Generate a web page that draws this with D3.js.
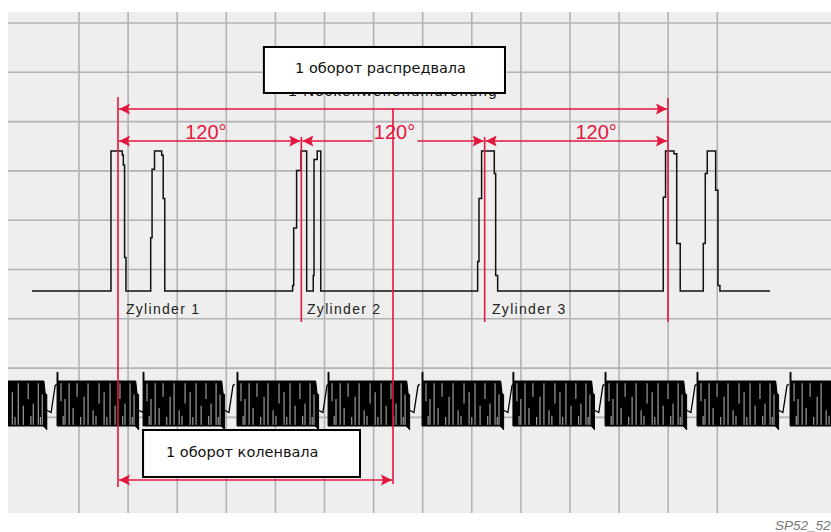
<!DOCTYPE html>
<html>
<head>
<meta charset="utf-8">
<script src="https://cdn.jsdelivr.net/npm/d3@7"></script>
<style>
  body { margin: 0; background: #fff; }
  svg { display: block; }
</style>
</head>
<body>
<div id="chart"></div>
<script>
// Hall sender (camshaft) trace, step points: [cam degrees, volts]
const camTrace = [
  [-56.3, 0],
  [-4.6, 5], [2.8, 4.86], [3.5, 4.5], [4.3, 1.2], [5.2, 0],
  [21.4, 1.9], [22.3, 4.35], [23.9, 5], [28.6, 4.85], [29.6, 3.3], [30.6, 0],
  [114.3, 0.2], [115.0, 2.25], [116.9, 4.3], [119.8, 5], [123.5, 0],
  [127.8, 0.55], [128.3, 4.7], [130.4, 5], [132.7, 0],
  [235.4, 1.05], [236.3, 3.3], [238.0, 5], [246.3, 4.2], [247.2, 0.55], [248.5, 0],
  [356.9, 3.35], [358.4, 5], [363.9, 4.9], [365.7, 1.7], [368.0, 0],
  [383.1, 1.7], [384.4, 4.2], [385.7, 5], [391.2, 3.6], [392.7, 0.2], [394.0, 0],
  [426.8, 0]
];

// engine speed sender (crankshaft): cam degree of each reference spike
const crankGroups = [-100, -39.9, 16.4, 77.9, 137.5, 199, 258.5, 318.8, 379, 439.9];
// one tooth group (offset in cam degrees, level)
const groupTop = [[0, 1.39], [0.6, 1.39], [0.6, 1.0], [51.5, 1.0], [52.4, 0.45], [53.4, 0.4]];
const groupBottom = [[0, -1.0], [51.0, -1.0], [52.3, -1.08], [53.4, -1.17]];
const groupRamp = [[53.4, -0.3], [56.2, -0.4], [58.9, 0.8], [60, 0.85]];
// light gaps between teeth: [offset, from level, to level]
const groupGaps = [
  [2.6, 0.9, 0.1], [5.2, 0.2, -0.95], [7.9, 0.9, -0.95], [10.5, -0.2, -0.95],
  [13.1, 0.9, 0.3], [17.7, 0.3, -0.95], [20.3, 0.9, -0.95], [23.6, -0.3, -0.95],
  [27.5, 0.9, 0.0], [30.8, 0.5, -0.95], [34.7, 0.9, -0.95], [38.0, -0.1, -0.95],
  [41.2, 0.9, 0.2], [44.5, 0.0, -0.95], [47.8, 0.9, -0.95], [50.4, 0.4, -0.95],
  [4.0, -0.55, -0.95], [15.5, -0.6, -0.95], [25.5, -0.55, -0.95], [32.6, -0.6, -0.95],
  [43.0, -0.55, -0.95], [49.2, -0.6, -0.95]
];

// dimension lines (cam degrees)
const camRev = [0, 360];
const crankRev = [0, 180];
const cylSpans = [[0, 120], [120, 240], [240, 360]];
const spanLabels = ["120°", "120°", "120°"];
const spanLabelAt = [57.5, 181, 313];
const cylinders = ["Zylinder 1", "Zylinder 2", "Zylinder 3"];
const cylLabelAt = [5.2, 123.7, 244.8];

const W = 831, H = 532;
const panel = { left: 8, top: 12, right: 831, bottom: 513 };
const red = "#e3173e";

const svg = d3.select("#chart").append("svg")
  .attr("width", W)
  .attr("height", H);

const x = d3.scaleLinear().domain([0, 360]).range([118, 668]);
const camY = d3.scaleLinear().domain([0, 5]).range([291, 151]);
const crankY = d3.scaleLinear().domain([-1, 1]).range([426, 381]);
const gridX = d3.scaleLinear().domain([0, 1]).range([79, 128.1]);
const gridY = d3.scaleLinear().domain([0, 1]).range([23, 72.3]);

svg.append("defs").append("clipPath").attr("id", "panelClip")
  .append("rect")
  .attr("x", panel.left).attr("y", panel.top)
  .attr("width", panel.right - panel.left).attr("height", panel.bottom - panel.top);

// background + grid
svg.append("rect")
  .attr("x", panel.left).attr("y", panel.top)
  .attr("width", panel.right - panel.left).attr("height", panel.bottom - panel.top)
  .attr("fill", "#eeeeee");

svg.append("g").selectAll("line").data(d3.range(14)).join("line")
  .attr("x1", d => gridX(d)).attr("x2", d => gridX(d))
  .attr("y1", panel.top).attr("y2", panel.bottom)
  .attr("stroke", "#b2b2b2").attr("stroke-width", 1.6);

svg.append("g").selectAll("line").data(d3.range(9)).join("line")
  .attr("y1", d => gridY(d)).attr("y2", d => gridY(d))
  .attr("x1", panel.left).attr("x2", panel.right)
  .attr("stroke", "#b2b2b2").attr("stroke-width", 1.6);

// camshaft signal
const camLine = d3.line()
  .x(d => x(d[0])).y(d => camY(d[1]))
  .curve(d3.curveStepAfter);

svg.append("path")
  .datum(camTrace)
  .attr("d", camLine)
  .attr("fill", "none")
  .attr("stroke", "#111")
  .attr("stroke-width", 1.5);

// crankshaft signal
const crank = svg.append("g").attr("clip-path", "url(#panelClip)");
const pt = g => d => [x(g + d[0]), crankY(d[1])];

crankGroups.forEach(g => {
  const poly = groupTop.map(pt(g)).concat(groupBottom.slice().reverse().map(pt(g)));
  crank.append("path")
    .attr("d", d3.line()(poly) + "Z")
    .attr("fill", "#000")
    .attr("stroke", "#000")
    .attr("stroke-width", 1);

  crank.append("path")
    .attr("d", d3.line()(groupRamp.map(pt(g))))
    .attr("fill", "none")
    .attr("stroke", "#000")
    .attr("stroke-width", 1.3);

  crank.selectAll(null).data(groupGaps).join("line")
    .attr("x1", d => x(g + d[0])).attr("x2", d => x(g + d[0]))
    .attr("y1", d => crankY(d[1])).attr("y2", d => crankY(d[2]))
    .attr("stroke", "#cfcfcf")
    .attr("stroke-width", 0.9);
});

// cylinder labels
svg.append("g").selectAll("text").data(cylinders).join("text")
  .attr("x", (d, i) => x(cylLabelAt[i]))
  .attr("y", 314)
  .attr("font-family", "Liberation Sans, Arial, sans-serif")
  .attr("font-size", 14)
  .attr("letter-spacing", 1.3)
  .attr("fill", "#222")
  .text(d => d);

// original (German) caption peeking out under the top box
svg.append("text")
  .attr("x", x(180)).attr("y", 95.5)
  .attr("text-anchor", "middle")
  .attr("font-family", "Liberation Sans, Arial, sans-serif")
  .attr("font-size", 15)
  .attr("letter-spacing", 1.2)
  .attr("fill", "#111")
  .text("1 Nockenwellenumdrehung");

// dimension lines
const dims = svg.append("g");

function vline(deg, y1, y2) {
  dims.append("line")
    .attr("x1", x(deg)).attr("x2", x(deg))
    .attr("y1", y1).attr("y2", y2)
    .attr("stroke", red).attr("stroke-width", 1.6);
}

function arrowHead(px, y, dir) {
  // dir = -1: tip on the left, dir = 1: tip on the right
  const l = 11, h = 5.5;
  dims.append("path")
    .attr("d", `M${px},${y} L${px - dir * l},${y - h} L${px - dir * (l - 2)},${y} L${px - dir * l},${y + h} Z`)
    .attr("fill", red);
}

function dimLine(a, b, y, gap) {
  const xa = x(a) + 1, xb = x(b) - 1;
  if (gap) {
    dims.append("line").attr("x1", xa).attr("x2", gap[0]).attr("y1", y).attr("y2", y)
      .attr("stroke", red).attr("stroke-width", 1.6);
    dims.append("line").attr("x1", gap[1]).attr("x2", xb).attr("y1", y).attr("y2", y)
      .attr("stroke", red).attr("stroke-width", 1.6);
  } else {
    dims.append("line").attr("x1", xa).attr("x2", xb).attr("y1", y).attr("y2", y)
      .attr("stroke", red).attr("stroke-width", 1.6);
  }
  arrowHead(xa, y, -1);
  arrowHead(xb, y, 1);
}

// camshaft revolution
dimLine(camRev[0], camRev[1], 109);
// 120° spans
cylSpans.forEach((s, i) => {
  const gap = i === 1 ? [x(spanLabelAt[i]) - 22, x(spanLabelAt[i]) + 23] : null;
  dimLine(s[0], s[1], 141, gap);
});
// crankshaft revolution
dimLine(crankRev[0], crankRev[1], 480);

dims.selectAll("text.span").data(spanLabels).join("text")
  .attr("class", "span")
  .attr("x", (d, i) => x(spanLabelAt[i]))
  .attr("y", 138.5)
  .attr("text-anchor", "middle")
  .attr("font-family", "Liberation Sans, Arial, sans-serif")
  .attr("font-size", 20)
  .attr("fill", red)
  .text(d => d);

vline(0, 97, 487);
vline(120, 137, 322);
vline(240, 137, 322);
vline(360, 98, 322);
vline(180, 108, 484);

// caption boxes
function captionBox(d0, d1, y0, y1, textDeg, baseline, label) {
  svg.append("rect")
    .attr("x", x(d0)).attr("y", y0)
    .attr("width", x(d1) - x(d0)).attr("height", y1 - y0)
    .attr("fill", "#fff")
    .attr("stroke", "#000")
    .attr("stroke-width", 2);
  svg.append("text")
    .attr("x", x(textDeg)).attr("y", baseline)
    .attr("font-family", "DejaVu Sans, Verdana, sans-serif")
    .attr("font-size", 14.5)
    .attr("fill", "#111")
    .text(label);
}

captionBox(95.5, 253.3, 47, 93, 115.9, 73, "1 оборот распредвала");
captionBox(16.4, 158.4, 430, 477, 31.4, 457, "1 оборот коленвала");

svg.append("text")
  .attr("x", 775).attr("y", 530)
  .attr("font-family", "Liberation Sans, Arial, sans-serif")
  .attr("font-style", "italic")
  .attr("font-size", 13.5)
  .attr("fill", "#777")
  .text("SP52_52");
</script>
</body>
</html>
